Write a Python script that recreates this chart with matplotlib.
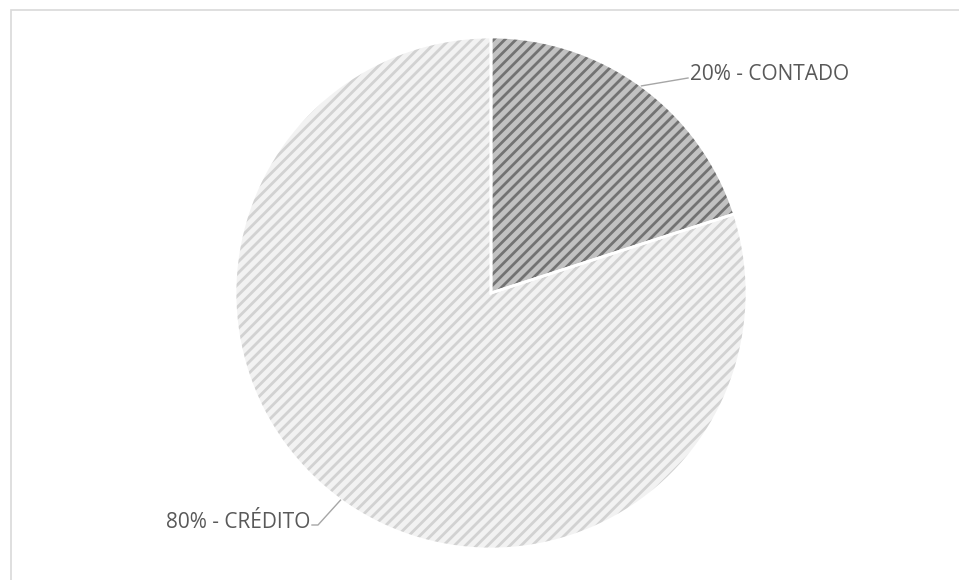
import numpy as np
import matplotlib
matplotlib.use("Agg")
import matplotlib.pyplot as plt
from matplotlib.patches import Rectangle

# payment split
labels = ["CONTADO", "CRÉDITO"]
values = [20, 80]
face_colors = ["#c2c2c2", "#f2f2f2"]
hatch_colors = ["#737373", "#d2d2d2"]

W, H = 959, 580
fig = plt.figure(figsize=(W / 100, H / 100), dpi=100)
ax = fig.add_axes([0, 0, 1, 1])

plt.rcParams["hatch.linewidth"] = 2.0

cx, cy, r = 491, 287, 256

wedges, _ = ax.pie(values, startangle=90, counterclock=False, center=(cx, cy),
                   radius=r, colors=face_colors, frame=True,
                   wedgeprops=dict(linewidth=0))
for w, hc in zip(wedges, hatch_colors):
    w.set_hatch("///")
    w.set_edgecolor(hc)

# white separators between slices
ax.pie(values, startangle=90, counterclock=False, center=(cx, cy), radius=r,
       frame=True, wedgeprops=dict(fill=False, edgecolor="white", linewidth=2))
ax.set_xlim(0, W)
ax.set_ylim(0, H)
ax.set_aspect("equal")
ax.axis("off")

# label text positions and leader elbows
text_pos = [(690, 506), (310, 58)]
elbows = [(688, 502), (318, 55)]
aligns = ["left", "right"]
line_col = "#a6a6a6"
text_col = "#595959"

total = sum(values)
for w, lab, v, tp, el, ha in zip(wedges, labels, values, text_pos, elbows, aligns):
    mid = np.deg2rad((w.theta1 + w.theta2) / 2)
    px, py = cx + r * np.cos(mid), cy + r * np.sin(mid)
    if ha == "left":
        ax.plot([px, el[0]], [py, el[1]], color=line_col, lw=1)
    else:
        ax.plot([px, el[0], el[0] - 6], [py, el[1], el[1]], color=line_col, lw=1)
    ax.text(tp[0], tp[1], f"{round(100 * v / total)}% - {lab}", ha=ha,
            va="center", fontsize=15, color=text_col, family="Open Sans")

# chart area border
fig.patches.append(Rectangle((11 / W, -0.1), 1.2, (H - 10) / H + 0.1,
                             transform=fig.transFigure, fill=False,
                             edgecolor="#d9d9d9", linewidth=1.2))

fig.savefig("out.png", dpi=100)
